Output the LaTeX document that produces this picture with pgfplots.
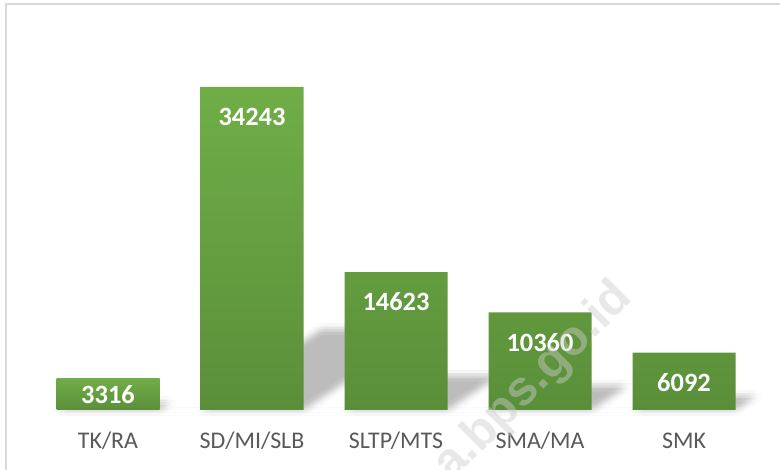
\documentclass[border=0pt]{standalone}
\usepackage{pgfplots}
\usepackage{pgfplotstable}
\pgfplotsset{compat=1.18}
\usepackage{fontspec}
\setmainfont{Carlito}
\newfontfamily\wmfont{Liberation Sans}
\definecolor{barTop}{HTML}{70AD47}
\definecolor{barBot}{HTML}{5A8F3A}
\definecolor{lab}{HTML}{595959}
% perspective shadow outline (one polygon along the baseline), in data units
\pgfplotstableread{
x y
-0.358 0
-0.277 829
0.439 829
0.358 0
0.642 0
1.483 8561
2.199 8561
1.358 0
1.642 0
2.001 3656
2.717 3656
2.358 0
2.642 0
2.896 2590
3.612 2590
3.358 0
3.642 0
3.792 1523
4.508 1523
4.358 0
}\shadowtab
\begin{document}
\begin{tikzpicture}[x=1bp,y=1bp]
\useasboundingbox (0,0) rectangle (780,470);
\clip (0,0) rectangle (780,470);
\fill[white] (0,0) rectangle (780,470);
\draw[color=black!15, line width=1.5bp] (6,-5) -- (6,466) -- (790,466);
\begin{axis}[
  at={(36bp,60bp)}, anchor=south west,
  scale only axis, width=720bp, height=406bp,
  xmin=-0.5, xmax=4.5, ymin=0, ymax=43040,
  axis line style={draw=none},
  ytick=\empty,
  xtick={0,1,2,3,4},
  xticklabels={TK/RA,SD/MI/SLB,SLTP/MTS,SMA/MA,SMK},
  major tick length=0pt,
  xticklabel style={anchor=base, yshift=-39bp, font=\fontsize{24}{28}\selectfont, text=lab},
  clip=false,
]
% soft shadow: several shifted copies of the outline
\addplot[draw=none, fill=black, fill opacity=0.014] table {\shadowtab};
\pgfplotsinvokeforeach{0,45,...,315}{
  \addplot[draw=none, fill=black, fill opacity=0.014, xshift={3bp*cos(#1)}, yshift={3bp*sin(#1)}] table {\shadowtab};
  \addplot[draw=none, fill=black, fill opacity=0.014, xshift={6.5bp*cos(#1+22.5)}, yshift={6.5bp*sin(#1+22.5)}] table {\shadowtab};
}
% bars
\addplot[ybar, bar width=103bp, draw=none, top color=barTop, bottom color=barBot, bar shift=0pt,
  point meta=explicit symbolic, nodes near coords,
  every node near coord/.append style={anchor=center, yshift=-30bp, font=\bfseries\fontsize{26.5}{30}\selectfont, text=white}]
  coordinates {(1,34243)[34243] (2,14623)[14623] (3,10360)[10360] (4,6092)[6092]};
\addplot[ybar, bar width=103bp, draw=none, top color=barTop, bottom color=barBot, bar shift=0pt,
  point meta=explicit symbolic, nodes near coords,
  every node near coord/.append style={anchor=center, yshift=-16bp, font=\bfseries\fontsize{26.5}{30}\selectfont, text=white}]
  coordinates {(0,3316)[3316]};
\end{axis}
\node[rotate=45, anchor=center, text=black!20, text opacity=0.45, font=\wmfont\bfseries\fontsize{49}{52}\selectfont] at (534,88) {a.bps.go.id};
\end{tikzpicture}
\end{document}
